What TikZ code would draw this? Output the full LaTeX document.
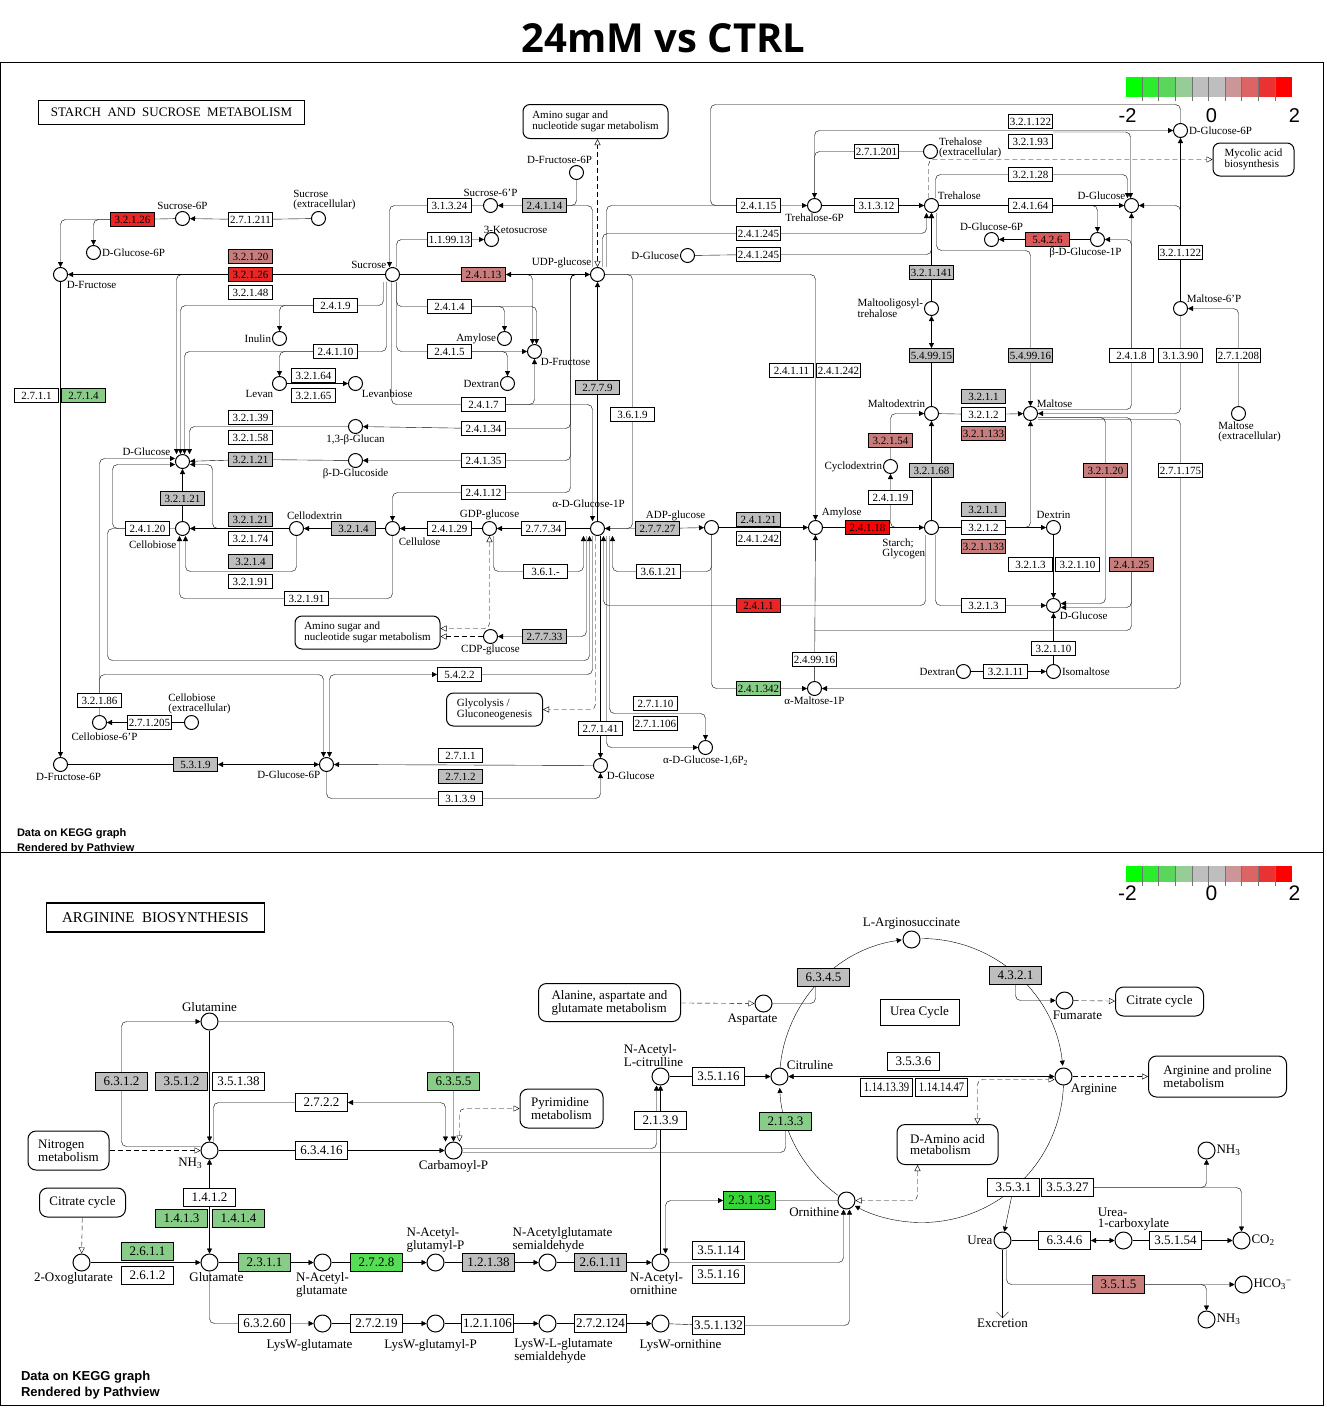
\documentclass[tikz,border=0pt]{standalone}
\usepackage{fontspec}
\setmainfont{Liberation Serif}
\newfontfamily\sansfam{Liberation Sans}
\newfontfamily\titlefam{Open Sans}
\newfontfamily\narrowfam[FakeStretch=0.82]{Liberation Serif}
\usepackage{tikz}
\usetikzlibrary{arrows.meta,positioning,backgrounds}

\definecolor{rd}{RGB}{232,38,38}
\definecolor{rdx}{RGB}{255,0,0}
\definecolor{pk}{RGB}{200,125,125}
\definecolor{pkx}{RGB}{220,88,88}
\definecolor{gy}{RGB}{190,190,190}
\definecolor{gn}{RGB}{135,205,135}
\definecolor{gnx}{RGB}{85,222,85}
\definecolor{gnxx}{RGB}{55,212,55}
\definecolor{ln}{RGB}{60,60,60}
\definecolor{lg0}{RGB}{0,255,0}
\definecolor{lg1}{RGB}{45,235,45}
\definecolor{lg2}{RGB}{90,215,90}
\definecolor{lg3}{RGB}{150,205,150}
\definecolor{lg4}{RGB}{190,190,190}
\definecolor{lg6}{RGB}{205,150,150}
\definecolor{lg7}{RGB}{220,100,100}
\definecolor{lg8}{RGB}{235,50,50}
\definecolor{lg9}{RGB}{255,0,0}

\tikzset{
  every picture/.style = {
    line width=1pt,
    >={Triangle[length=5pt,width=5pt]},
  }
  ,
  rc/.style = {rounded corners=5pt}
  ,
  % enzymes (top map)
  enz/.style = {rectangle, draw, fill=#1, inner sep=0pt,
    minimum width=44pt, minimum height=14pt,
    font=\fontsize{11}{11}\selectfont}
  , enz/.default = white
  ,
  cpd/.style = {circle, draw, fill=white, inner sep=0pt, minimum size=14pt}
  ,
  lab/.style = {font=\fontsize{11}{10}\selectfont, inner sep=0.5pt}
  ,
  mapbox/.style = {draw, rounded corners=7pt, fill=white, align=left,
    inner sep=2pt, font=\fontsize{11}{10}\selectfont}
  ,
  % enzymes (bottom map)
  benz/.style = {rectangle, draw, fill=#1, inner sep=0pt,
    minimum width=52pt, minimum height=18pt,
    font=\fontsize{13}{13}\selectfont}
  , benz/.default = white
  ,
  benzn/.style = {benz=#1, font=\narrowfam\fontsize{13}{13}\selectfont}
  , benzn/.default = white
  ,
  bcpd/.style = {circle, draw, fill=white, inner sep=0pt, minimum size=17pt}
  ,
  blab/.style = {font=\fontsize{13}{11.5}\selectfont, inner sep=0.5pt}
  ,
  bmapbox/.style = {draw, rounded corners=8pt, fill=white, align=left,
    inner sep=2pt, font=\fontsize{13}{11.5}\selectfont}
  ,
  maplink/.style = {dash pattern=on 5pt off 3pt,
    -{Triangle[open,length=6pt,width=6pt]}}
  ,
  maplinkb/.style = {maplink,
    {Triangle[open,length=6pt,width=6pt]}-{Triangle[open,length=6pt,width=6pt]}}
}

\begin{document}
\begin{tikzpicture}[x=1pt, y=-1pt]
\useasboundingbox (0,0) rectangle (1326,1409);
\begin{scope}[shift={(0.5,0.5)}]

\node[font=\titlefam\bfseries\fontsize{40}{40}\selectfont] (title) at (663,38) {24mM vs CTRL};

% ---------------- starch and sucrose metabolism ----------------
\node[draw, line width=1.4pt, minimum width=266pt, minimum height=24pt,
  font=\fontsize{13}{13}\selectfont] (ttl1) at (171,112) {STARCH\ \ AND\ \ SUCROSE\ \ METABOLISM};

\node[mapbox, minimum width=145pt, minimum height=34pt] (m1) at (595,121) {Amino sugar and\\nucleotide sugar metabolism};
\node[mapbox, minimum width=81pt, minimum height=33pt] (m2) at (1253,159) {Mycolic acid\\biosynthesis};
\node[mapbox, minimum width=145pt, minimum height=33pt] (m3) at (367,632) {Amino sugar and\\nucleotide sugar metabolism};
\node[mapbox, minimum width=96pt, minimum height=33pt] (m4) at (494,709) {Glycolysis /\\Gluconeogenesis};

% compounds
\node[cpd, label={[lab]above:Sucrose-6P}] (cSuc6P) at (182,218) {};
\node[cpd, label={[lab,align=left,xshift=6pt]above:Sucrose\\(extracellular)}] (cSucExt) at (318,218) {};
\node[cpd, label={[lab]right:D-Glucose-6P}] (cG6Pa) at (93,252) {};
\node[cpd, label={[lab]below right:D-Fructose}] (cFru) at (60,274) {};
\node[cpd, label={[lab]above left:Sucrose}] (cSuc) at (392,274) {};
\node[cpd, label={[lab]above:Sucrose-6'P}] (cSucP) at (490,205) {};
\node[cpd, label={[lab,xshift=-14pt]above right:3-Ketosucrose}] (cKeto) at (491,239) {};
\node[cpd, label={[lab,xshift=-17pt]above:D-Fructose-6P}] (cF6Pa) at (576,172) {};
\node[cpd, label={[lab]above left:UDP-glucose}] (cUDP) at (597,274) {};
\node[cpd, label={[lab]left:D-Glucose}] (cGlcA) at (687,255) {};
\node[cpd, label={[lab]below:Trehalose-6P}] (cTre6P) at (814,205) {};
\node[cpd, label={[lab,align=left,yshift=4pt]right:Trehalose\\(extracellular)}] (cTreExt) at (930,151) {};
\node[cpd, label={[lab]above right:Trehalose}] (cTre) at (931,205) {};
\node[cpd, label={[lab]right:D-Glucose-6P}] (cG6Pb) at (1180,130) {};
\node[cpd, label={[lab]above left:D-Glucose}] (cGlcB) at (1131,205) {};
\node[cpd, label={[lab]above:D-Glucose-6P}] (cG6Pc) at (991,239) {};
\node[cpd, label={[lab,xshift=-12pt]below:β-D-Glucose-1P}] (cbG1P) at (1097,239) {};
\node[cpd, label={[lab,align=left]left:Maltooligosyl-\\trehalose}] (cMOT) at (931,308) {};
\node[cpd, label={[lab]above right:Maltose-6'P}] (cM6P) at (1180,308) {};
\node[cpd, label={[lab]above left:Maltodextrin}] (cMdx) at (931,413) {};
\node[cpd, label={[lab]above right:Maltose}] (cMal) at (1030,413) {};
\node[cpd, label={[lab,align=left,xshift=11pt]below:Maltose\\(extracellular)}] (cMalExt) at (1238,413) {};
\node[cpd, label={[lab]left:Cyclodextrin}] (cCdx) at (890,466) {};
\node[cpd, label={[lab,yshift=3pt]above right:Amylose}] (cAmyB) at (815,527) {};
\node[cpd, label={[lab]above left:ADP-glucose}] (cADP) at (711,527) {};
\node[cpd, label={[lab,align=left,yshift=-5pt]below left:Starch;\\Glycogen}] (cStarch) at (931,527) {};
\node[cpd, label={[lab]above:Dextrin}] (cDex) at (1053,527) {};
\node[cpd, label={[lab]below right:D-Glucose}] (cGlcC) at (1053,605) {};
\node[cpd, label={[lab]left:Dextran}] (cDextranB) at (963,671) {};
\node[cpd, label={[lab]right:Isomaltose}] (cIso) at (1053,671) {};
\node[cpd, label={[lab]below:α-Maltose-1P}] (cMal1P) at (814,688) {};
\node[cpd, label={[lab]below:{α-D-Glucose-1,6P\textsubscript{2}}}] (cG16) at (705,747) {};
\node[cpd, label={[lab,yshift=12pt,xshift=-9pt]above:α-D-Glucose-1P}] (cG1P) at (597,528) {};
\node[cpd, label={[lab]above:GDP-glucose}] (cGDP) at (489,528) {};
\node[cpd, label={[lab,yshift=-3pt]below right:Cellulose}] (cCel) at (392,528) {};
\node[cpd, label={[lab,xshift=18pt]above:Cellodextrin}] (cCdxt) at (296,528) {};
\node[cpd, label={[lab,yshift=-6pt]below left:Cellobiose}] (cClb) at (182,528) {};
\node[cpd, label={[lab,xshift=-6pt]above left:D-Glucose}] (cGlcD) at (182,461) {};
\node[cpd, label={[lab]below:{1,3-β-Glucan}}] (cGluc13) at (355,426) {};
\node[cpd, label={[lab]below:β-D-Glucoside}] (cbGlcs) at (355,460) {};
\node[cpd, label={[lab]left:Inulin}] (cInu) at (279,338) {};
\node[cpd, label={[lab]below left:Levan}] (cLev) at (279,383) {};
\node[cpd, label={[lab]below right:Levanbiose}] (cLvb) at (355,383) {};
\node[cpd, label={[lab]left:Amylose}] (cAmyA) at (504,338) {};
\node[cpd, label={[lab]below right:D-Fructose}] (cFruB) at (534,351) {};
\node[cpd, label={[lab]left:Dextran}] (cDextranA) at (507,383) {};
\node[cpd, label={[lab]below:CDP-glucose}] (cCDP) at (490,636) {};
\node[cpd, label={[lab,xshift=5pt,yshift=-2pt]below:Cellobiose-6'P}] (cC6P) at (99,722) {};
\node[cpd, label={[lab,align=left,xshift=8pt]above:Cellobiose\\(extracellular)}] (cClbExt) at (191,722) {};
\node[cpd, label={[lab,xshift=8pt]below:D-Fructose-6P}] (cF6Pb) at (60,764) {};
\node[cpd, label={[lab]below left:D-Glucose-6P}] (cG6Pd) at (326,764) {};
\node[cpd, label={[lab]below right:D-Glucose}] (cGlcE) at (600,765) {};

% enzymes
\node[enz=rd] (e1) at (132,219) {3.2.1.26};
\node[enz] (e2) at (250,219) {2.7.1.211};
\node[enz=pk] (e3) at (250,256) {3.2.1.20};
\node[enz=rd] (e4) at (250,274) {3.2.1.26};
\node[enz] (e5) at (250,292) {3.2.1.48};
\node[enz] (e6) at (449,205) {3.1.3.24};
\node[enz=gy] (e7) at (544,205) {2.4.1.14};
\node[enz] (e8) at (449,239) {1.1.99.13};
\node[enz=pk] (e9) at (483,274) {2.4.1.13};
\node[enz] (e10) at (335,305) {2.4.1.9};
\node[enz] (e11) at (449,306) {2.4.1.4};
\node[enz] (e12) at (335,351) {2.4.1.10};
\node[enz] (e13) at (449,351) {2.4.1.5};
\node[enz] (e14) at (313,375) {3.2.1.64};
\node[enz] (e15) at (313,395) {3.2.1.65};
\node[enz] (e16) at (36,395) {2.7.1.1};
\node[enz=gn] (e17) at (83,395) {2.7.1.4};
\node[enz] (e18) at (483,404) {2.4.1.7};
\node[enz=gy] (e19) at (597,387) {2.7.7.9};
\node[enz] (e20) at (632,414) {3.6.1.9};
\node[enz] (e21) at (250,417) {3.2.1.39};
\node[enz] (e22) at (250,437) {3.2.1.58};
\node[enz=gy] (e23) at (250,459) {3.2.1.21};
\node[enz] (e24) at (483,428) {2.4.1.34};
\node[enz] (e25) at (483,460) {2.4.1.35};
\node[enz] (e26) at (483,492) {2.4.1.12};
\node[enz=gy] (e27) at (182,498) {3.2.1.21};
\node[enz] (e28) at (147,528) {2.4.1.20};
\node[enz=gy] (e29) at (250,519) {3.2.1.21};
\node[enz] (e30) at (250,538) {3.2.1.74};
\node[enz=gy] (e31) at (353,528) {3.2.1.4};
\node[enz] (e32) at (449,528) {2.4.1.29};
\node[enz] (e33) at (543,528) {2.7.7.34};
\node[enz=gy] (e34) at (657,528) {2.7.7.27};
\node[enz=gy] (e35) at (250,561) {3.2.1.4};
\node[enz] (e36) at (250,581) {3.2.1.91};
\node[enz] (e37) at (306,598) {3.2.1.91};
\node[enz] (e38) at (545,571) {3.6.1.-};
\node[enz] (e39) at (658,571) {3.6.1.21};
\node[enz=gy] (e40) at (544,636) {2.7.7.33};
\node[enz] (e41) at (459,674) {5.4.2.2};
\node[enz] (e42) at (99,700) {3.2.1.86};
\node[enz] (e43) at (149,722) {2.7.1.205};
\node[enz] (e44) at (655,703) {2.7.1.10};
\node[enz] (e45) at (655,723) {2.7.1.106};
\node[enz] (e46) at (600,728) {2.7.1.41};
\node[enz=gy] (e47) at (195,764) {5.3.1.9};
\node[enz] (e48) at (460,755) {2.7.1.1};
\node[enz=gy] (e49) at (460,776) {2.7.1.2};
\node[enz] (e50) at (460,798) {3.1.3.9};
\node[enz] (e51) at (758,205) {2.4.1.15};
\node[enz] (e52) at (876,205) {3.1.3.12};
\node[enz] (e53) at (876,151) {2.7.1.201};
\node[enz] (e54) at (1030,121) {3.2.1.122};
\node[enz] (e55) at (1030,141) {3.2.1.93};
\node[enz] (e56) at (1030,174) {3.2.1.28};
\node[enz] (e57) at (1030,205) {2.4.1.64};
\node[enz] (e58) at (758,233) {2.4.1.245};
\node[enz] (e59) at (758,254) {2.4.1.245};
\node[enz=pkx] (e60) at (1047,239) {5.4.2.6};
\node[enz] (e61) at (1180,252) {3.2.1.122};
\node[enz=gy] (e62) at (931,272) {3.2.1.141};
\node[enz=gy] (e63) at (931,355) {5.4.99.15};
\node[enz=gy] (e64) at (1030,355) {5.4.99.16};
\node[enz] (e65) at (1131,355) {2.4.1.8};
\node[enz] (e66) at (1180,355) {3.1.3.90};
\node[enz] (e67) at (1238,355) {2.7.1.208};
\node[enz] (e68) at (791,370) {2.4.1.11};
\node[enz] (e69) at (838,370) {2.4.1.242};
\node[enz=gy] (e70) at (983,396) {3.2.1.1};
\node[enz] (e71) at (983,414) {3.2.1.2};
\node[enz=pk] (e72) at (983,433) {3.2.1.133};
\node[enz=pk] (e73) at (890,440) {3.2.1.54};
\node[enz=gy] (e74) at (931,470) {3.2.1.68};
\node[enz=pk] (e75) at (1105,470) {3.2.1.20};
\node[enz] (e76) at (1180,470) {2.7.1.175};
\node[enz] (e77) at (890,497) {2.4.1.19};
\node[enz=gy] (e78) at (758,519) {2.4.1.21};
\node[enz] (e79) at (758,538) {2.4.1.242};
\node[enz=rdx] (e80) at (867,527) {2.4.1.18};
\node[enz=gy] (e81) at (983,509) {3.2.1.1};
\node[enz] (e82) at (983,527) {3.2.1.2};
\node[enz=pk] (e83) at (983,546) {3.2.1.133};
\node[enz] (e84) at (1030,564) {3.2.1.3};
\node[enz] (e85) at (1077,564) {3.2.1.10};
\node[enz=pk] (e86) at (1131,564) {2.4.1.25};
\node[enz=rd] (e87) at (758,605) {2.4.1.1};
\node[enz] (e88) at (983,605) {3.2.1.3};
\node[enz] (e89) at (1053,648) {3.2.1.10};
\node[enz] (e90) at (814,659) {2.4.99.16};
\node[enz] (e91) at (1005,671) {3.2.1.11};
\node[enz=gn] (e92) at (758,688) {2.4.1.342};

\begin{scope}[on background layer, ln]
\draw[->,rc] (cSucExt) -- (e2) -- (cSuc6P);
\draw[->,rc] (cSuc6P) -- (e1) -| (cFru);
\draw[->,rc] (e1.west) -| (cG6Pa);
\draw[<->] (cSuc) -- (e9) -- (cUDP);
\draw[->] (cSuc) -- (e4) -- (cFru);
\draw[->,rc] (e4.west) -| ([xshift=-6pt]cGlcD.north);
\draw[->,rc] ([xshift=-9pt]cSuc.south) |- (e10) -| ([xshift=-2pt]cGlcD.north);
\draw[->,rc] (e10.west) -| (cInu);
\draw[->,rc] ([xshift=-6pt]cSuc.south) |- (e12) -| ([xshift=2pt]cGlcD.north);
\draw[->,rc] (e12.west) -| (cLev);
\draw[->] (cLev) -- (cLvb);
\draw[->,rc] ([xshift=4pt]cSuc.south) |- (e11) -| ([xshift=2pt]cFruB.north);
\draw[->,rc] (e11.east) -| (cAmyA);
\draw[->,rc] ([xshift=4pt]cSuc.south) |- (e13) -- (cFruB);
\draw[->,rc] (e13.east) -| (cDextranA);
\draw[->,rc] ([xshift=-1pt]cSuc.south) |- (e18) -| (cFruB.south);
\draw[->,rc] (e18.east) -| ([xshift=-5pt]cG1P.north);
\draw[->,rc] ([xshift=4pt]cSuc.north) |- (e8) -- (cKeto);
\draw[->,rc] (cSucP) -- (e6) -| ([xshift=-3pt]cSuc.north);
\draw[->,rc] ([xshift=-5pt]cUDP.north) |- (e7) -- (cSucP);
\draw[rc] (cF6Pa) |- (e7.east);
\draw[->,rc] (e9.east) -| ([xshift=-2pt]cFruB.north);
\draw[maplinkb] (cUDP.north) -- (cUDP.north |- m1.south);
\draw[->] (cG1P) -- (cUDP);
\draw[->,rc] (cUDP.east) -| (e20) |- (cG1P.east);
\draw[->,rc] (cUDP) -| (570,330) |- (e24) -- (cGluc13);
\draw[->,rc] (cUDP) -| (570,330) |- (e25) -- (cbGlcs);
\draw[->,rc] (cUDP) -| (570,330) |- (e26) -| (cCel);
\draw[->] (cG1P) -- (e33) -- (cGDP);
\draw[->] (cGDP) -- (e32) -- (cCel);
\draw[->] (cCel) -- (e31) -- (cCdxt);
\draw[->] (cCdxt) -- (cClb);
\draw[->,rc] (cCdxt) -- (212,528) |- ([yshift=-3pt]cGlcD.east);
\draw[->] (cClb) -- (cGlcD);
\draw[->] (cbGlcs) -- (e23) -- (cGlcD);
\draw[->,rc] (cGluc13) -| ([xshift=7pt]cGlcD.north);
\draw[->,rc] (cClb) -- (e28) -- (112,528) |- ([yshift=-3pt]cGlcD.west);
\draw[->,rc] (e28.west) -| (107,660) -| ([xshift=-8pt]cG1P.south);
\draw[->,rc] (cCdxt) |- (250,571) -| ([xshift=3pt]cClb.south);
\draw[->,rc] (cCel) |- (e37) -| ([xshift=-3pt]cClb.south);
\draw[->,rc] ([xshift=4pt]cGDP.south) |- (e38) -| ([xshift=-14pt]cG1P.south);
\draw[->,rc] ([xshift=-11pt]cG1P.south) |- (e40) -- (cCDP);
\draw[<->,rc] ([xshift=-5pt]cG1P.south) |- (e41) -| ([xshift=3pt]cG6Pd.north);
\draw[->,rc] (cC6P) -- (e42) -- (99,674) -| ([xshift=-3pt]cG6Pd.north);
\draw[->,rc] (e42.north) |- ([yshift=3pt]cGlcD.west);
\draw[->] (cClbExt) -- (e43) -- (cC6P);
\draw[<->] (cF6Pb) -- (e47) -- (cG6Pd);
\draw[->] (cGlcE) -- (cG6Pd);
\draw[->,rc] (cG6Pd) |- (e50) -| (cGlcE);
\draw[->] (cGlcE.north |- cG1P.south) -- (cGlcE);
\draw[->,rc] ([xshift=12pt]cG1P.south) |- (705,713) -- (cG16);
\draw[->,rc] ([xshift=9pt]cG1P.south) |- (cG16);
\draw[->,rc] (cADP) |- (e39) -| ([xshift=15pt]cG1P.south);
\draw[->] (cG1P) -- (e34) -- (cADP);
\draw[->] (cADP) -- (cAmyB);
\draw[->,rc] (cADP) |- (e92) -- (cMal1P);
\draw[->,rc] ([xshift=-6pt]cStarch.south) |- (e87) -| ([xshift=6pt]cG1P.south);
\draw[maplink,rc] ([xshift=-2pt]cG1P.south) |- (m4.east);
\draw[maplinkb,rc] (cGDP.south) |- ([yshift=4pt]m3.east);
\draw[maplink] (cCDP) -- (m3.east |- cCDP);
\draw[->] (cAmyB) -- (e80) -- (cStarch);
\draw[->,rc] (cUDP) -| (cAmyB);
\draw[->] (cMal1P) -- (cAmyB);
\draw[rc] (e86) |- (814,630);
\draw[->,rc] ([yshift=-4pt]cMal.east) -| (e75) |- ([yshift=2pt]cGlcC.east);
\draw[->,rc] ([yshift=-4pt]cMal.east) -| (e86) |- ([yshift=-2pt]cGlcC.east);
\draw[->,rc] ([yshift=-6pt]cMal.east) -| (e76) |- (cMal1P);
\draw[->] (cDextranB) -- (e91) -- (cIso);
\draw[->] (cIso) -- (e89) -- (cGlcC);
\draw[->] (cDex) -- (cGlcC);
\draw[->,rc] ([xshift=4pt]cStarch.south) |- (e88) -- (cGlcC);
\draw[->] (cStarch) -- (e82) -- (cDex);
\draw[->,rc] (e82.east) -| (cMal.south);
\draw[->,rc] (cStarch) -| (e77) -- (cCdx);
\draw[->,rc] (cCdx) -- (e73) |- (cMdx);
\draw[->] (cStarch) -- (e74) -- (cMdx);
\draw[->] (cMdx) -- (e71) -- (cMal);
\draw[<->] (cMdx) -- (e63) -- (cMOT);
\draw[->] (cMOT) -- (e62) -- (cTre);
\draw[->,rc] ([xshift=5pt]cTre.south) |- (1030,250) -- (e64) -- (cMal);
\draw[->,rc] ([xshift=5pt]cUDP.north) |- (e58) -| ([xshift=-5pt]cTre.south);
\draw[->,rc] (cGlcA) -- (e59) -| (cTre.south);
\draw[->,rc] ([xshift=9pt]cUDP.north) |- (e51) -- (cTre6P);
\draw[rc] (cG6Pb) |- (710,104) |- (e51);
\draw[->] (cTre6P) -- (e52) -- (cTre);
\draw[->,rc] (cTreExt) -- (e53) -| (cTre6P);
\draw[maplink,rc] ([xshift=-3pt]cTre.north) |- (m2.west);
\draw[->,rc] ([xshift=4pt]cTre.north) |- (e56) -| ([xshift=-4pt]cGlcB.north);
\draw[->] (cTre) -- (e57) -- (cGlcB);
\draw[->,rc] (e57.east) -| (cbG1P);
\draw[->,rc] (cTre6P) |- (cG6Pb);
\draw[->,rc] ([yshift=-3pt]e54.south east) -| ([xshift=-1pt]cGlcB.north);
\draw[->] (cbG1P) -- (e60) -- (cG6Pc);
\draw[->,rc] ([yshift=4pt]cMal.east) -| (e65) -- (cGlcB);
\draw[->,rc] (e65.north) |- (cbG1P.east);
\draw[->,rc] (cM6P) -- (e66) |- (cMal.east);
\draw[->] (cM6P) -- (e61) -- (cG6Pb);
\draw[->,rc] (e61.north) |- (cGlcB.east);
\draw[->,rc] (cMalExt) -- (e67) |- (cM6P);
\draw[->] (cFru) -- (cF6Pb);
\end{scope}

% legend
\foreach \c [count=\i from 0] in {lg0,lg1,lg2,lg3,lg4,lg4,lg6,lg7,lg8,lg9} {
  \fill[\c] (1125+16.6*\i,76) rectangle ++(16.6,20);
  \fill[\c] (1125+16.6*\i,865) rectangle ++(16.6,16);
}
\foreach \i in {1,...,9} {
  \draw[black!55, line width=0.6pt] (1125+16.6*\i,76) -- ++(0,24);
  \draw[black!55, line width=0.6pt] (1125+16.6*\i,865) -- ++(0,20);
}
\node[font=\sansfam\fontsize{20}{20}\selectfont, inner sep=0pt] (lgA) at (1127,115) {-2};
\node[font=\sansfam\fontsize{20}{20}\selectfont, inner sep=0pt] (lgB) at (1211,115) {0};
\node[font=\sansfam\fontsize{20}{20}\selectfont, inner sep=0pt] (lgC) at (1294,115) {2};
\node[font=\sansfam\fontsize{21}{21}\selectfont, inner sep=0pt] (lgD) at (1127,893) {-2};
\node[font=\sansfam\fontsize{21}{21}\selectfont, inner sep=0pt] (lgE) at (1211,893) {0};
\node[font=\sansfam\fontsize{21}{21}\selectfont, inner sep=0pt] (lgF) at (1294,893) {2};

\begin{scope}
\clip (0,62) rectangle (1323,852);
\node[anchor=west, font=\sansfam\bfseries\fontsize{11}{11}\selectfont, inner sep=0pt] (dk1) at (16,833) {Data on KEGG graph};
\node[anchor=west, font=\sansfam\bfseries\fontsize{11}{11}\selectfont, inner sep=0pt] (dk2) at (16,848) {Rendered by Pathview};
\end{scope}

% ---------------- arginine biosynthesis ----------------
\node[draw, line width=1.4pt, minimum width=218pt, minimum height=29pt,
  font=\fontsize{15}{15}\selectfont] (ttl2) at (155,917) {ARGININE\ \ BIOSYNTHESIS};
\node[draw, minimum width=79pt, minimum height=26pt, font=\fontsize{13}{13}\selectfont] (ucyc) at (919,1012) {Urea Cycle};

\node[bmapbox, minimum width=81pt, minimum height=39pt] (bm1) at (68,1150) {Nitrogen\\metabolism};
\node[bmapbox, minimum width=86pt, minimum height=29pt] (bm2) at (82,1202) {Citrate cycle};
\node[bmapbox, minimum width=83pt, minimum height=39pt] (bm3) at (561,1108) {Pyrimidine\\metabolism};
\node[bmapbox, minimum width=142pt, minimum height=38pt] (bm4) at (609,1002) {Alanine, aspartate and\\glutamate metabolism};
\node[bmapbox, minimum width=88pt, minimum height=29pt] (bm5) at (1159,1001) {Citrate cycle};
\node[bmapbox, minimum width=138pt, minimum height=41pt] (bm6) at (1217,1076) {Arginine and proline\\metabolism};
\node[bmapbox, minimum width=101pt, minimum height=40pt] (bm7) at (947,1144) {D-Amino acid\\metabolism};

\node[bcpd, label={[blab]above:Glutamine}] (cGln) at (209,1021) {};
\node[bcpd, label={[blab]below left:NH\textsubscript{3}}] (cNH3a) at (209,1150) {};
\node[bcpd, label={[blab]below:Carbamoyl-P}] (cCarP) at (453,1150) {};
\node[bcpd, label={[blab,xshift=-8pt]below:2-Oxoglutarate}] (c2OG) at (81,1262) {};
\node[bcpd, label={[blab,xshift=7pt]below:Glutamate}] (cGlu) at (209,1262) {};
\node[bcpd, label={[blab,align=left]below:N-Acetyl-\\glutamate}] (cNAG) at (322,1262) {};
\node[bcpd, label={[blab,align=left]above:N-Acetyl-\\glutamyl-P}] (cNAGP) at (435,1262) {};
\node[bcpd, label={[blab,align=left,xshift=15pt]above:N-Acetylglutamate\\semialdehyde}] (cNAGS) at (547,1262) {};
\node[bcpd, label={[blab,align=left,xshift=-4pt]below:N-Acetyl-\\ornithine}] (cNAO) at (660,1262) {};
\node[bcpd, label={[blab,xshift=-13pt,yshift=-6pt]below:LysW-glutamate}] (cLWG) at (322,1323) {};
\node[bcpd, label={[blab,xshift=-5pt,yshift=-6pt]below:LysW-glutamyl-P}] (cLWGP) at (435,1323) {};
\node[bcpd, label={[blab,align=left,xshift=16pt,yshift=-5pt]below:LysW-L-glutamate\\semialdehyde}] (cLWGS) at (547,1323) {};
\node[bcpd, label={[blab,xshift=20pt,yshift=-6pt]below:LysW-ornithine}] (cLWO) at (660,1323) {};
\node[bcpd, label={[blab,align=left,xshift=-7pt]above:N-Acetyl-\\L-citrulline}] (cNALC) at (660,1076) {};
\node[bcpd, label={[blab]above right:Citruline}] (cCit) at (779,1076) {};
\node[bcpd, label={[blab,xshift=-11pt]below:Aspartate}] (cAsp) at (763,1003) {};
\node[bcpd, label={[blab]above:L-Arginosuccinate}] (cArgSuc) at (911,939) {};
\node[bcpd, label={[blab,xshift=13pt]below:Fumarate}] (cFum) at (1064,1000) {};
\node[bcpd, label={[blab]below right:Arginine}] (cArg) at (1063,1076) {};
\node[bcpd, label={[blab]below left:Ornithine}] (cOrn) at (846,1200) {};
\node[bcpd, label={[blab]left:Urea}] (cUrea) at (1002,1240) {};
\node[bcpd, label={[blab,align=left,xshift=10pt]above:Urea-\\1-carboxylate}] (cU1C) at (1123,1240) {};
\node[bcpd, label={[blab]right:CO\textsubscript{2}}] (cCO2) at (1241,1240) {};
\node[bcpd, label={[blab]right:HCO\textsubscript{3}\textsuperscript{−}}] (cHCO3) at (1243,1284) {};
\node[bcpd, label={[blab]right:NH\textsubscript{3}}] (cNH3b) at (1206,1150) {};
\node[bcpd, label={[blab]right:NH\textsubscript{3}}] (cNH3c) at (1206,1319) {};
\node[blab] (excr) at (1002,1323) {Excretion};

\node[benz=gy] (b1) at (121,1081) {6.3.1.2};
\node[benz=gy] (b2) at (181,1081) {3.5.1.2};
\node[benz] (b3) at (238,1081) {3.5.1.38};
\node[benz=gn] (b4) at (453,1081) {6.3.5.5};
\node[benz] (b5) at (321,1102) {2.7.2.2};
\node[benz] (b6) at (321,1150) {6.3.4.16};
\node[benz] (b7) at (209,1197) {1.4.1.2};
\node[benz=gn] (b8) at (181,1218) {1.4.1.3};
\node[benz=gn] (b9) at (238,1218) {1.4.1.4};
\node[benz=gn] (b10) at (147,1251) {2.6.1.1};
\node[benz] (b11) at (147,1275) {2.6.1.2};
\node[benz=gn] (b12) at (264,1262) {2.3.1.1};
\node[benz=gnx] (b13) at (376,1262) {2.7.2.8};
\node[benz=gy] (b14) at (488,1262) {1.2.1.38};
\node[benz=gy] (b15) at (600,1262) {2.6.1.11};
\node[benz] (b16) at (264,1323) {6.3.2.60};
\node[benz] (b17) at (376,1323) {2.7.2.19};
\node[benz] (b18) at (487,1323) {1.2.1.106};
\node[benz] (b19) at (600,1323) {2.7.2.124};
\node[benz] (b20) at (718,1076) {3.5.1.16};
\node[benz] (b21) at (660,1120) {2.1.3.9};
\node[benz=gn] (b22) at (785,1121) {2.1.3.3};
\node[benz=gy] (b23) at (823,977) {6.3.4.5};
\node[benz=gy] (b24) at (1015,975) {4.3.2.1};
\node[benz] (b25) at (913,1061) {3.5.3.6};
\node[benzn] (b26) at (886,1087) {1.14.13.39};
\node[benzn] (b27) at (941,1087) {1.14.14.47};
\node[benz=gnxx] (b28) at (749,1200) {2.3.1.35};
\node[benz] (b29) at (718,1250) {3.5.1.14};
\node[benz] (b30) at (718,1274) {3.5.1.16};
\node[benz] (b31) at (718,1325) {3.5.1.132};
\node[benz] (b32) at (1013,1187) {3.5.3.1};
\node[benz] (b33) at (1067,1187) {3.5.3.27};
\node[benz] (b34) at (1064,1240) {6.3.4.6};
\node[benz] (b35) at (1175,1240) {3.5.1.54};
\node[benz=pk] (b36) at (1118,1284) {3.5.1.5};

\coordinate (uc) at (921,1080);

\begin{scope}[on background layer, black!85]
\draw[->] (cGln) -- (cNH3a);
\draw[->,rc] ([yshift=4pt]cNH3a.west) -| (b1) |- (cGln);
\draw[->,rc] (cGln) -| (b4) -- (cCarP);
\draw[<->,rc] ([xshift=4pt]cNH3a.north) |- (b5) -| ([xshift=-8pt]cCarP.north);
\draw[maplinkb,rc] ([xshift=6pt]cCarP.north) |- (bm3.west);
\draw[->] (cNH3a) -- (b6) -- (cCarP);
\draw[maplink] (bm1) -- (cNH3a);
\draw[<->] (cGlu) -- (cNH3a);
\draw[maplink] (bm2) -- (c2OG);
\draw[->] (c2OG) -- (cGlu);
\draw[->] (cGlu) -- (b12) -- (cNAG);
\draw[->] (cNAG) -- (b13) -- (cNAGP);
\draw[->] (cNAGP) -- (b14) -- (cNAGS);
\draw[->] (cNAGS) -- (b15) -- (cNAO);
\draw[->,rc] (cGlu) |- (b16) -- (cLWG);
\draw[->] (cLWG) -- (b17) -- (cLWGP);
\draw[->] (cLWGP) -- (b18) -- (cLWGS);
\draw[->] (cLWGS) -- (b19) -- (cLWO);
\draw[->,rc] (cLWO) -- (b31) -| ([xshift=3pt]cOrn.south);
\draw[->,rc] (cNAO) -| ([xshift=-3pt]cOrn.south);
\draw[<->,rc] (cOrn) -- (b28) -| ([xshift=5pt]cNAO.north);
\draw[->] (cNAO) -- (b21) -- (cNALC);
\draw[->,rc] ([yshift=2pt]cCarP.east) -| ([xshift=-4pt]cNALC.south);
\draw[rc] ([yshift=-2pt]cCarP.east) -| (b22);
\draw[->] (cNALC) -- (b20) -- (cCit);
\draw[<->] (cCit) -- (cArg);
\draw[maplink] (bm4) -- (cAsp);
\draw[rc] (cAsp) -| ([xshift=-8pt]b23.south);
% urea cycle
\draw[->] ([shift={(175:142pt)}]uc) arc[start angle=175, end angle=98, radius=142pt];
\draw[->] ([shift={(90:142pt)}]uc) arc[start angle=90, end angle=6, radius=142pt];
\draw[->] ([shift={(-2:142pt)}]uc) arc[start angle=-2, end angle=-118, radius=142pt];
\draw[->] ([shift={(234:142pt)}]uc) arc[start angle=234, end angle=183, radius=142pt];
\draw[->,rc] (b24) |- (cFum);
\draw[->] (b32) -- (cUrea);
\draw[->,rc] (b33) -| (cCO2);
\draw[->,rc] (b33.east) -| (cNH3b);
\draw[<->] (cUrea) -- (b34) -- (cU1C);
\draw[->] (cU1C) -- (b35) -- (cCO2);
\draw[-{Straight Barb[length=6pt]}] (cUrea) -- (excr);
\draw[->,rc] ([xshift=4pt]cUrea.south) |- (b36) -- (cHCO3);
\draw[->,rc] (b36.east) -| (cNH3c);
\draw[maplink] (cArg) -- (bm6);
\draw[maplink] (cFum) -- (bm5);
\draw[maplinkb,rc] ([xshift=30pt]bm7.north) |- ([yshift=-3pt]cArg.west);
\draw[maplinkb,rc] ([xshift=-30pt]bm7.south) |- (cOrn.east);
\end{scope}

\node[anchor=west, font=\sansfam\bfseries\fontsize{13}{13}\selectfont, inner sep=0pt] (dk3) at (20,1377) {Data on KEGG graph};
\node[anchor=west, font=\sansfam\bfseries\fontsize{13}{13}\selectfont, inner sep=0pt] (dk4) at (20,1393) {Rendered by Pathview};

% panel frames
\draw[line width=0.8pt] (0,62) rectangle (1322.5,851.5);
\draw[line width=0.8pt] (0,851.5) rectangle (1322.5,1405);
\end{scope}
\end{tikzpicture}
\end{document}
